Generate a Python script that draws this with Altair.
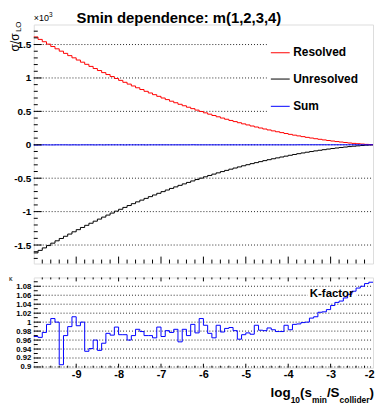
import altair as alt
import numpy as np
import pandas as pd

# ---------------- data ----------------
x_range = [-10.0, -2.0]
n_bins = 80

resolved = [1.614, 1.577, 1.542, 1.506, 1.470, 1.436, 1.401, 1.368, 1.334, 1.301,
            1.268, 1.236, 1.204, 1.173, 1.141, 1.111, 1.080, 1.051, 1.021, 0.992,
            0.964, 0.935, 0.908, 0.880, 0.853, 0.827, 0.800, 0.775, 0.750, 0.725,
            0.700, 0.676, 0.652, 0.629, 0.606, 0.584, 0.562, 0.541, 0.519, 0.498,
            0.478, 0.458, 0.438, 0.419, 0.400, 0.382, 0.364, 0.347, 0.330, 0.313,
            0.297, 0.281, 0.266, 0.251, 0.236, 0.222, 0.208, 0.195, 0.182, 0.169,
            0.156, 0.144, 0.133, 0.122, 0.111, 0.101, 0.091, 0.082, 0.073, 0.064,
            0.056, 0.048, 0.041, 0.034, 0.027, 0.021, 0.016, 0.011, 0.006, 0.002]

unresolved = [-1.618, -1.580, -1.543, -1.508, -1.472, -1.437, -1.402, -1.369, -1.336, -1.302,
              -1.270, -1.237, -1.205, -1.174, -1.143, -1.112, -1.082, -1.052, -1.022, -0.993,
              -0.965, -0.937, -0.909, -0.881, -0.854, -0.828, -0.802, -0.776, -0.751, -0.726,
              -0.701, -0.677, -0.653, -0.630, -0.607, -0.585, -0.563, -0.541, -0.520, -0.499,
              -0.479, -0.459, -0.439, -0.420, -0.401, -0.383, -0.365, -0.348, -0.331, -0.314,
              -0.298, -0.282, -0.267, -0.252, -0.237, -0.223, -0.209, -0.196, -0.183, -0.170,
              -0.157, -0.145, -0.133, -0.122, -0.111, -0.101, -0.091, -0.082, -0.073, -0.064,
              -0.056, -0.048, -0.041, -0.034, -0.027, -0.021, -0.016, -0.011, -0.006, -0.002]

kfactor = [0.968, 0.966, 0.977, 0.995, 1.008, 1.000, 0.905, 0.970, 0.990, 1.012,
           0.992, 1.000, 0.935, 0.941, 0.960, 0.937, 0.953, 0.975, 0.971, 0.989,
           0.972, 0.972, 0.960, 0.970, 0.984, 0.979, 0.970, 0.970, 0.965, 0.989,
           0.968, 0.981, 0.977, 0.984, 0.956, 0.984, 0.970, 0.995, 0.976, 1.008,
           0.993, 0.975, 0.965, 0.993, 0.978, 0.986, 0.988, 0.981, 0.962, 0.972,
           0.976, 0.973, 0.993, 0.982, 0.981, 0.987, 0.983, 0.979, 0.979, 0.993,
           0.983, 0.995, 0.996, 0.999, 1.000, 1.009, 1.012, 1.022, 1.023, 1.028,
           1.037, 1.044, 1.047, 1.054, 1.062, 1.069, 1.076, 1.080, 1.086, 1.089]

legend_names = ["Resolved", "Unresolved", "Sum"]
legend_colors = ["#ff0000", "#000000", "#0000ff"]
top_y_labels = [-1.5, -1, -0.5, 0, 0.5, 1, 1.5]
bottom_y_labels = [0.9, 0.92, 0.94, 0.96, 0.98, 1, 1.02, 1.04, 1.06, 1.08]
x_tick_labels = [-9, -8, -7, -6, -5, -4, -3, -2]
title_text = "Smin dependence: m(1,2,3,4)"

# ---------------- tables ----------------
edges = np.round(np.linspace(x_range[0], x_range[1], n_bins + 1), 4)
res = np.array(resolved)
unr = np.array(unresolved)
tot = res + unr


def closed(v):
    v = list(v)
    return v + [v[-1]]


hist = pd.DataFrame({"x": edges, "res": closed(res), "unr": closed(unr),
                     "tot": closed(tot), "k": closed(kfactor)})

W, H1, H2 = 342, 241, 91
FONT = "Liberation Sans"

xs = alt.Scale(domain=x_range, nice=False, zero=False)
ys_top = alt.Scale(domain=[-1.777, 1.80], nice=False, zero=False)
ys_bot = alt.Scale(domain=[0.8984, 1.0997], nice=False, zero=False)

x_major = list(range(-9, -2))
x_minor = [v for v in np.round(np.arange(-9.8, -2.0, 0.2), 2) if abs(v - round(v)) > 1e-6]
top_minor = [v for v in np.round(np.arange(-1.7, 1.75, 0.1), 2) if abs(v * 2 - round(v * 2)) > 1e-6]
bot_minor = list(np.round(np.arange(0.91, 1.095, 0.02), 3))

one = pd.DataFrame({"t": [title_text]})

top_yaxis = alt.Axis(values=top_y_labels, labelExpr="'' + datum.value", labelFont=FONT,
                     labelFontWeight="bold", labelFontSize=10, labelColor="black", labelPadding=3,
                     labelOverlap=False, ticks=False, domain=False, grid=False, title=None)
top_xaxis = alt.Axis(labels=False, ticks=False, domain=False, grid=False, title=None)

bot_yaxis = alt.Axis(values=bottom_y_labels, labelExpr="'' + datum.value", labelFont=FONT,
                     labelFontWeight="bold", labelFontSize=7.8, labelColor="black", labelPadding=3,
                     labelOverlap=False, ticks=False, domain=False, grid=False, title=None)
bot_xaxis = alt.Axis(values=x_tick_labels, labelExpr="'' + datum.value", labelFont=FONT,
                     labelFontWeight="bold", labelFontSize=11, labelColor="black", labelPadding=1,
                     labelFlush=True, labelFlushOffset=1, labelOverlap=False,
                     ticks=False, domain=False, grid=False, title=None)


def yrules(vals, scale, yaxis, x0, x1, dash=None):
    kw = dict(color="black", stroke="black", strokeWidth=1)
    if dash:
        kw.update(strokeDash=dash, opacity=0.85)
    return alt.Chart(pd.DataFrame({"v": vals})).mark_rule(**kw).encode(
        y=alt.Y("v:Q", scale=scale, axis=yaxis), x=alt.value(x0), x2=alt.value(x1))


def xticks(vals, xaxis, y0, y1):
    return alt.Chart(pd.DataFrame({"v": vals})).mark_rule(color="black", strokeWidth=1).encode(
        x=alt.X("v:Q", scale=xs, axis=xaxis), y=alt.value(y0), y2=alt.value(y1))


def txt(s, x, y, size, weight="bold", align="left", angle=0, baseline="alphabetic"):
    kw = dict(text=s, font=FONT, fontSize=size, fontWeight=weight, align=align,
              baseline=baseline, color="black")
    if angle:
        kw["angle"] = angle
    return alt.Chart(one).mark_text(**kw).encode(x=alt.value(x), y=alt.value(y))


def hline(field, color, yscale, xaxis, yaxis):
    return alt.Chart(hist).mark_line(interpolate="step-after", color=color, stroke=color,
                                     strokeWidth=1).encode(
        x=alt.X("x:Q", scale=xs, axis=xaxis),
        y=alt.Y(f"{field}:Q", scale=yscale, axis=yaxis))


# legend pieces (local coords of the top panel)
leg_rect = alt.Chart(one).mark_rect(color="white").encode(
    x=alt.value(235), x2=alt.value(341), y=alt.value(13), y2=alt.value(94))
leg_layers = []
leg_line_y = [28.5, 55, 82.5]
leg_text_y = [32, 59, 86.2]
for name, col, ly, ty in zip(legend_names, legend_colors, leg_line_y, leg_text_y):
    leg_layers.append(alt.Chart(pd.DataFrame({"n": [name]})).mark_rule(
        color=col, stroke=col, strokeWidth=1).encode(
        x=alt.value(239), x2=alt.value(258), y=alt.value(ly)))
    leg_layers.append(txt(name, 261.5, ty, 12))

top = alt.layer(
    yrules(top_y_labels, ys_top, top_yaxis, 0, W, dash=[1, 2]),
    leg_rect,
    *leg_layers,
    hline("unr", "#000000", ys_top, top_xaxis, top_yaxis),
    hline("res", "#ff0000", ys_top, top_xaxis, top_yaxis),
    hline("tot", "#0000ff", ys_top, top_xaxis, top_yaxis),
    yrules(top_y_labels, ys_top, top_yaxis, 0, 8),
    yrules(top_minor, ys_top, top_yaxis, 0, 4),
    xticks(x_major, top_xaxis, H1, H1 - 7),
    xticks(x_minor, top_xaxis, H1, H1 - 4),
    txt(title_text, 146.3, -2, 15, align="center"),
    txt("\u00d710", 0, -4, 9, weight="normal"),
    txt("3", 15.3, -8, 6.5, weight="normal"),
    txt("\u03c3/\u03c3", -15.4, 9, 12, weight="normal", align="right", angle=270),
    txt("LO", -12.4, -3, 8, weight="normal", align="right", angle=270),
).properties(width=W, height=H1)

# x-axis title pieces (local coords of the bottom panel)
xt = [("log", 238.7, 120.5, 13.5), ("10", 258.95, 126.5, 8.5), ("(s", 268.4, 120.5, 13.5),
      ("min", 280.4, 126.5, 8.5), ("/S", 295.5, 120.5, 13.5), ("collider", 308.3, 126.5, 8.5),
      (")", 338.5, 120.5, 13.5)]

bottom = alt.layer(
    yrules(bottom_y_labels, ys_bot, bot_yaxis, 0, W, dash=[1, 2]),
    alt.Chart(one).mark_rect(color="white").encode(
        x=alt.value(276), x2=alt.value(325), y=alt.value(10), y2=alt.value(22.5)),
    hline("k", "#0000ff", ys_bot, bot_xaxis, bot_yaxis),
    txt("K-factor", 278.3, 20.1, 11.5),
    yrules(bottom_y_labels, ys_bot, bot_yaxis, 0, 7),
    yrules(bot_minor, ys_bot, bot_yaxis, 0, 4),
    xticks(x_major, bot_xaxis, H2, H2 - 4),
    xticks(x_minor, bot_xaxis, H2, H2 - 2),
    xticks(x_major, bot_xaxis, 0, 4),
    xticks(x_minor, bot_xaxis, 0, 2),
    txt("\u03ba", -25, 3.5, 7, weight="normal"),
    *[txt(s, x, y, fs) for s, x, y, fs in xt],
).properties(width=W, height=H2)

chart = alt.vconcat(top, bottom, spacing=10).properties(
    padding={"left": 0, "top": 0, "right": 0, "bottom": 0},
    background="white",
).configure_view(stroke="black", strokeWidth=1).configure(font=FONT)

chart.save("out.html", embed_options={"renderer": "svg", "actions": False})
